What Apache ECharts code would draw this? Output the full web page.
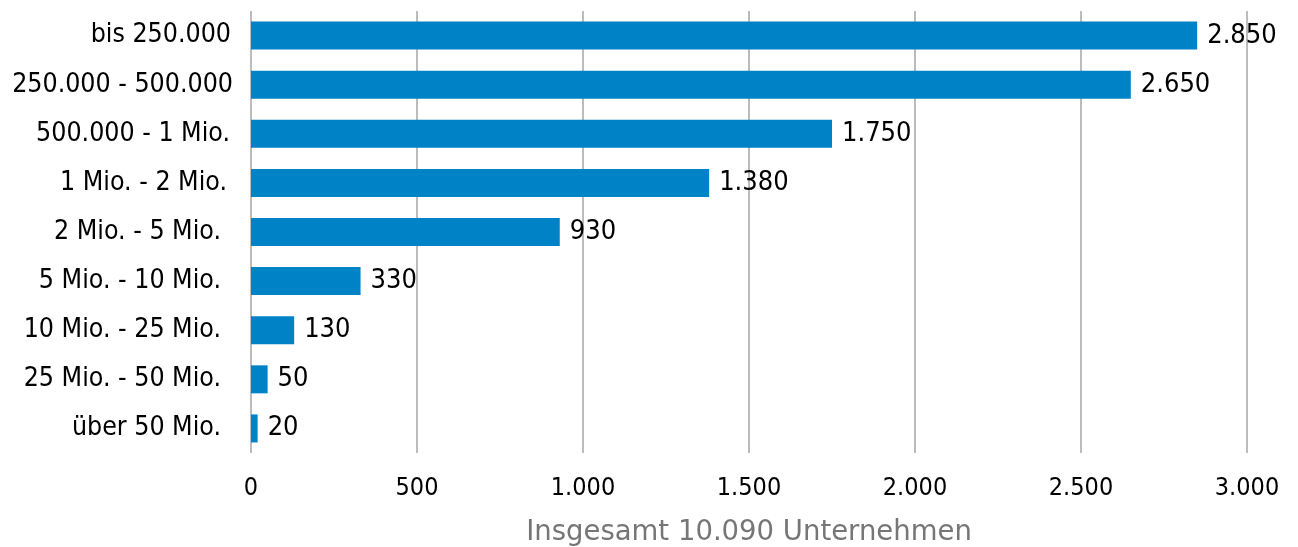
<!DOCTYPE html>
<html>
<head>
<meta charset="utf-8">
<script src="https://cdn.jsdelivr.net/npm/echarts@6/dist/echarts.min.js"></script>
<style>
  html, body { margin: 0; padding: 0; background: #fff; }
  #chart { width: 1298px; height: 547px; }
</style>
</head>
<body>
<div id="chart"></div>
<script>
// Umsatzklassen (von oben nach unten)
const categories = [
  "bis 250.000",
  "250.000 - 500.000",
  "500.000 - 1 Mio.",
  "1 Mio. - 2 Mio.",
  "2 Mio. - 5 Mio.",
  "5 Mio. - 10 Mio.",
  "10 Mio. - 25 Mio.",
  "25 Mio. - 50 Mio.",
  "über 50 Mio."
];
const values = [2850, 2650, 1750, 1380, 930, 330, 130, 50, 20];
const axisTitle = "Insgesamt 10.090 Unternehmen";

// deutsches Zahlenformat mit Punkt als Tausendertrennzeichen
const fmt = (v) => String(v).replace(/\B(?=(\d{3})+(?!\d))/g, ".");

const font = "'DejaVu Sans Condensed', 'DejaVu Sans', sans-serif";
// im Original stehen hinter einigen Beschriftungen Leerzeichen -> etwas Abstand rechts
const labelPadRight = [2, 0, 3, 6, 12, 12, 12, 12, 12];

const chart = echarts.init(document.getElementById("chart"));

chart.setOption({
  animation: false,
  backgroundColor: "#ffffff",
  grid: {
    left: 251,
    right: 51,
    top: 11,
    bottom: 94,
    containLabel: false,
    outerBoundsMode: "none"
  },
  xAxis: {
    type: "value",
    min: 0,
    max: 3000,
    interval: 500,
    name: axisTitle,
    nameLocation: "middle",
    nameGap: 66,
    nameTextStyle: { color: "#767676", fontSize: 27.5, fontFamily: "'DejaVu Sans', sans-serif" },
    axisLine: { show: false },
    axisTick: { show: false },
    axisLabel: {
      color: "#000",
      fontSize: 25,
      fontFamily: font,
      margin: 23,
      formatter: fmt
    },
    splitLine: { show: true, lineStyle: { color: "#a6a6a6", width: 1.5 } }
  },
  yAxis: {
    type: "category",
    data: categories.map((c, i) => ({
      value: c,
      textStyle: { padding: [0, labelPadRight[i], 0, 0] }
    })),
    inverse: true,
    axisLine: { show: false },
    axisTick: { show: false },
    axisLabel: {
      color: "#000",
      fontSize: 26.5,
      fontFamily: font,
      margin: 18
    }
  },
  series: [
    {
      type: "bar",
      data: values,
      barWidth: 28,
      itemStyle: { color: "#0082c6" },
      label: {
        show: true,
        position: "right",
        distance: 10,
        color: "#000",
        fontSize: 27,
        fontFamily: font,
        formatter: (p) => fmt(p.value)
      }
    }
  ]
});
</script>
</body>
</html>
